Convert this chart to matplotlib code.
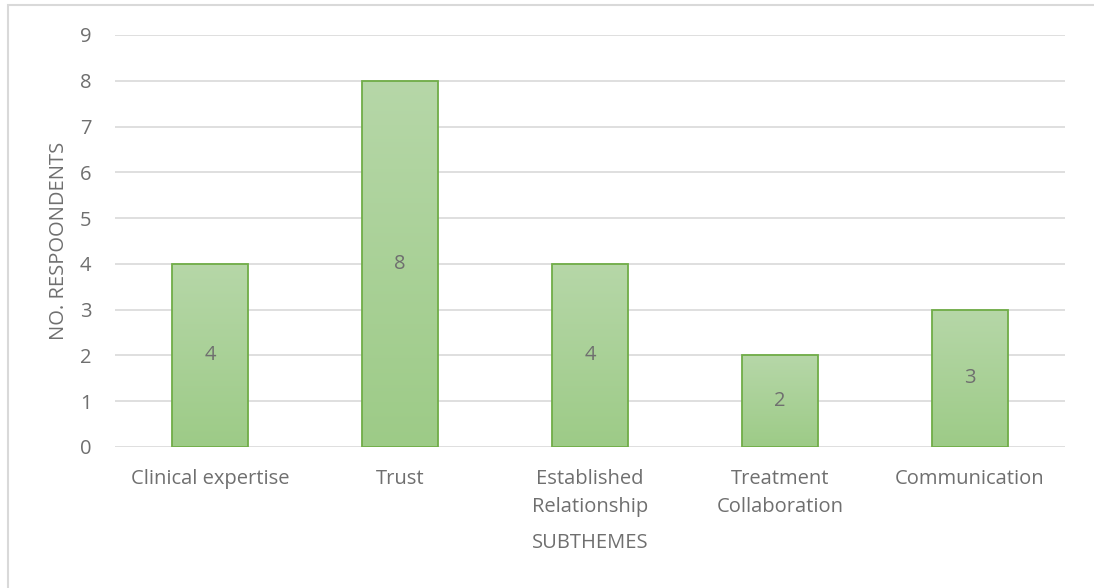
import numpy as np
import matplotlib.pyplot as plt
from matplotlib.patches import Rectangle
from matplotlib.colors import LinearSegmentedColormap

# data
subthemes = ["Clinical expertise", "Trust", "Established\nRelationship",
             "Treatment\nCollaboration", "Communication"]
respondents = [4, 8, 4, 2, 3]
yticks = list(range(0, 10))

plt.rcParams['font.family'] = ['Open Sans', 'DejaVu Sans']
txt = '#6f6f6f'
fs = 14.5

fig = plt.figure(figsize=(10.94, 5.88), dpi=100)
ax = fig.add_axes([115 / 1094, (588 - 447) / 588, 950 / 1094, 412 / 588])

x = np.arange(len(subthemes))
bars = ax.bar(x, respondents, width=0.4, color='none', edgecolor='#70ad47',
              linewidth=1.3, zorder=3)

# gradient fill, light at top, darker at bottom
cmap = LinearSegmentedColormap.from_list('g', ['#9dcb87', '#b6d7a8'])
grad = np.linspace(0, 1, 256).reshape(-1, 1)
for b, v in zip(bars, respondents):
    x0, w = b.get_x(), b.get_width()
    im = ax.imshow(grad, cmap=cmap, origin='lower', aspect='auto',
                   extent=[x0, x0 + w, 0, v], zorder=2)
    im.set_clip_path(b)
    ax.text(b.get_x() + w / 2, v / 2, str(v), ha='center', va='center',
            fontsize=fs, color=txt, zorder=4)

ax.set_xlim(-0.5, len(subthemes) - 0.5)
ax.set_ylim(0, 9)
ax.set_yticks(yticks)
ax.yaxis.grid(True, color='#d9d9d9', linewidth=1.2, zorder=0)
ax.set_axisbelow(True)
for s in ax.spines.values():
    s.set_visible(False)
ax.tick_params(length=0, labelsize=fs, colors=txt, pad=17)
ax.tick_params(axis='x', pad=16)
ax.set_xticks(x)
ax.set_xticklabels(subthemes, linespacing=1.5)
ax.set_xlabel("SUBTHEMES", fontsize=fs, color=txt, labelpad=12)
ax.set_ylabel("NO. RESPOONDENTS", fontsize=fs, color=txt, labelpad=8)

# chart border (only top/left visible in the reference)
fig.patches.append(Rectangle((8 / 1094, -0.1), 1.2, (588 - 5) / 588 + 0.1,
                             transform=fig.transFigure, fill=False,
                             edgecolor='#d9d9d9', linewidth=1.5))

fig.savefig('out.png', dpi=100)
